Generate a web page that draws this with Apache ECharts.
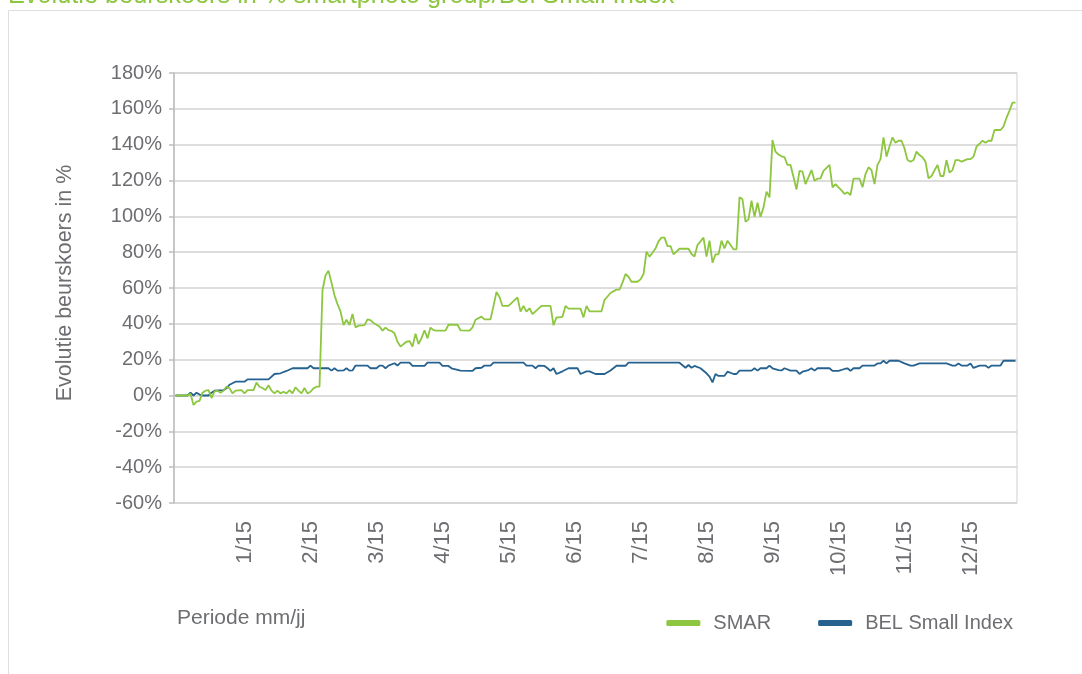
<!DOCTYPE html>
<html lang="nl">
<head>
<meta charset="utf-8" />
<title>Evolutie beurskoers</title>
<script src="https://cdn.jsdelivr.net/npm/echarts@6/dist/echarts.min.js"></script>
<style>
  html, body { margin: 0; padding: 0; background: #fff; }
  #box { width: 1082px; height: 674px; }
</style>
</head>
<body>
<div id="box"></div>
<script>
    var FONT = 'Liberation Sans';
    var GREY = '#6d6e71';

    // handelsdagen (index) en maandlabels
    var dayCount = 281;
    var tickDays = [23, 45, 67, 89, 111, 133, 155, 177, 199, 221, 243, 265];
    var tickLabels = ['1/15', '2/15', '3/15', '4/15', '5/15', '6/15', '7/15', '8/15', '9/15', '10/15', '11/15', '12/15'];

    // SMAR: dag-index en evolutie in %
    var smarDay = [0, 4, 5, 6, 7, 8, 9, 10, 11, 12, 13, 14, 15, 16, 17, 18, 19, 20, 22, 23, 24, 26, 27, 28, 29, 30,
        31, 32, 33, 34, 35, 36, 37, 38, 39, 40, 41, 42, 43, 44, 45, 46, 47, 48, 49, 50, 51, 52, 53, 54, 55, 56,
        57, 58, 59, 60, 61, 63, 64, 65, 66, 67, 68, 69, 70, 71, 72, 73, 74, 75, 76, 77, 78, 79, 80, 81, 82, 83,
        84, 85, 86, 87, 90, 91, 94, 95, 98, 99, 100, 102, 103, 105, 106, 107, 108, 109, 111, 114, 115, 116, 117,
        118, 119, 122, 125, 126, 127, 128, 129, 130, 131, 135, 136, 137, 138, 142, 143, 145, 147, 148, 149, 150,
        151, 152, 154, 155, 156, 157, 158, 159, 160, 161, 162, 163, 164, 165, 166, 168, 171, 172, 173, 174, 175,
        176, 177, 178, 179, 180, 181, 182, 183, 184, 185, 186, 187, 188, 189, 190, 191, 192, 193, 194, 195, 196,
        197, 198, 199, 200, 201, 202, 203, 204, 205, 206, 207, 208, 209, 210, 212, 213, 214, 215, 216, 217, 218,
        219, 220, 221, 222, 223, 224, 225, 226, 228, 229, 230, 231, 232, 233, 234, 235, 236, 237, 238, 239, 240,
        241, 242, 243, 244, 245, 246, 247, 248, 249, 250, 251, 252, 254, 255, 256, 257, 258, 259, 260, 261, 262,
        264, 265, 266, 267, 268, 269, 270, 271, 272, 273, 275, 276, 277, 278, 279, 280];
    var smarVal = [0, 0, 1, -5.3, -3.4, -3, 1.6, 2.7, 3, -1.4, 2.3, 2.7, 1.6, 2.7, 5, 4, 1.2, 2.7, 3, 1.2, 3, 3, 7.2, 4.9, 4.2, 3,
        5.7, 2.7, 1.2, 2.7, 1.2, 2.1, 1.2, 3, 1.2, 4.6, 2.7, 1.2, 4.2, 1.2, 2.1, 4, 4.9, 4.9, 58.9, 67, 69.7, 63, 56, 51, 47, 39.3,
        42.3, 39.3, 45.5, 38, 39, 39.3, 42.5, 42.1, 40.5, 39.5, 38.5, 36.2, 37.9, 36.5, 36, 34.7, 30, 27.3, 28.7, 30, 30.4, 27.3, 34.5, 28.7, 32, 36.4,
        31.9, 37.9, 36.5, 36.2, 36.2, 39.5, 39.5, 36.4, 36.2, 38, 42.3, 44, 42.5, 42.5, 50, 57.8, 55, 50, 50, 54.8, 46.8, 50, 46.8,
        48.7, 45.4, 50, 50, 39.2, 43.6, 43.6, 44, 50, 48.5, 48.5, 43.6, 50, 47, 47, 53.3, 57.2, 59.1, 59.1, 63, 67.8,
        66.3, 63.5, 63.5, 64.8, 67.8, 80.3, 77.5, 79.7, 82, 86, 88.1, 88.1, 83.4, 83.4, 78.8, 81.9, 81.9, 79, 77.5, 84, 86,
        88.1, 77.5, 86.4, 74.1, 78.8, 78.8, 86.4, 82.1, 86.4, 84, 81.6, 81.6, 110.6, 109.5, 97, 98.3, 108.7, 99.8, 107.6, 99.8, 105,
        113.8, 110.6, 142.6, 136.1, 134.5, 133.5, 133, 128.7, 128.7, 122, 115, 125.4, 124.9, 118, 125.8, 119.9, 121, 121.2, 125.4, 127, 128.7,
        116.2, 118, 116.2, 114.5, 112.5, 113.4, 111.9, 121, 121, 116.2, 123.6, 127.4, 125.8, 118, 128.7, 131.9, 144.1, 133.3, 139, 144.1, 141.1,
        142.2, 142.2, 137.9, 131.4, 130.5, 131.4, 136.1, 134.2, 133, 130.5, 121.2, 122.5, 128.7, 122.5, 122.5, 131.4, 124.4, 125.8, 131.4, 131.4, 130.5,
        131.9, 131.9, 133.3, 138.9, 140.5, 142.2, 141.1, 142.2, 142.2, 148.2, 148.2, 150.1, 155, 159, 163.5, 163.5];

    // BEL Small Index: dag-index en evolutie in %
    var belDay = [0, 4, 5, 6, 7, 8, 9, 11, 12, 13, 16, 17, 18, 20, 23, 24, 31, 33, 35, 37, 39, 44, 45, 46, 51, 52, 53, 54,
        56, 57, 58, 59, 60, 64, 65, 67, 68, 69, 70, 71, 73, 74, 75, 78, 79, 83, 84, 88, 89, 91, 92, 95, 99, 100, 102,
        103, 105, 106, 116, 117, 119, 120, 121, 123, 124, 125, 126, 127, 129, 131, 134, 135, 137, 138, 140, 143, 145,
        147, 150, 151, 168, 170, 171, 172, 173, 175, 177, 178, 179, 180, 181, 183, 184, 186, 187, 188, 192, 193, 194,
        195, 197, 198, 199, 201, 202, 203, 205, 207, 208, 209, 211, 212, 213, 214, 218, 219, 221, 223, 224, 225, 226,
        228, 229, 233, 234, 235, 236, 237, 238, 241, 243, 245, 246, 248, 257, 259, 260, 261, 262, 264, 265, 266, 268,
        270, 271, 272, 275, 276, 280];
    var belVal = [0, 0, 1.6, 0, 1.6, 0.5, 0, 0, 1.6, 2.7, 3, 4, 6, 7.7, 7.7, 9, 9, 12, 12.4, 13.7, 15.2, 15.2, 16.7, 15.2, 15.2, 13.9, 15.2, 13.9,
        14, 15.2, 13.9, 14, 16.7, 16.7, 15.2, 15.2, 16.7, 16.7, 15.2, 16.7, 18, 16.7, 18.3, 18.3, 16.5, 16.5, 18.3, 18.3, 16.5, 16.5, 15.2, 13.9, 13.7, 15.2, 15.5,
        16.7, 16.7, 18.3, 18.3, 16.7, 16.7, 15.2, 16.7, 16.5, 15.2, 13.7, 15.2, 12, 13.5, 15.2, 15.2, 12, 13.5, 13.5, 12, 12, 14,
        16.6, 16.6, 18.3, 18.3, 15.5, 17, 15.5, 16.5, 15.2, 12.4, 10.5, 7.3, 12, 10.9, 11, 13.3, 12, 12, 13.9, 13.9, 15.2, 13.9,
        15.2, 15.2, 16.7, 15.2, 14.2, 14, 15.2, 13.9, 13.9, 12, 13.3, 14.2, 15.2, 13.9, 15.2, 15.2, 13.7, 13.7, 14.8, 15.2, 13.7, 15.2,
        15.2, 16.7, 16.7, 17.9, 17.9, 19.4, 17.9, 19.4, 19.4, 17.9, 16.7, 16.7, 17.9, 17.9, 16.7, 16.7, 17.9, 16.7, 16.7, 17.9, 15.4, 16.7,
        16.7, 15.4, 16.7, 16.7, 19.4, 19.4];

    var days = [];
    for (var i = 0; i < dayCount; i++) days.push(String(i));

    function pairs(d, v) {
        var out = [];
        for (var k = 0; k < d.length; k++) out.push([d[k], v[k]]);
        return out;
    }

    var myChart = echarts.init(document.getElementById('box'), null, { renderer: 'canvas' });
    var option = {
        animation: false,
        backgroundColor: '#fff',
        textStyle: { fontFamily: FONT },
        graphic: [
            {   // kader
                type: 'rect', z: -10, silent: true,
                shape: { x: 8.5, y: 10.5, width: 1200, height: 800 },
                style: { fill: 'none', stroke: '#dedede', lineWidth: 1 }
            },
            {   // titel (bovenaan afgesneden)
                type: 'text', left: 8, top: -16,
                style: { text: 'Evolutie beurskoers in % smartphoto group/Bel Small Index',
                    font: '25.3px ' + FONT, fill: '#8dc63f' }
            },
            {
                type: 'text', left: 177, top: 608,
                style: { text: 'Periode mm/jj', font: '21px ' + FONT, fill: GREY }
            }
        ],
        legend: {
            right: 64,
            top: 608,
            itemWidth: 34,
            itemHeight: 6,
            itemGap: 47,
            icon: 'roundRect',
            textStyle: { fontSize: 20, color: GREY, fontFamily: FONT, padding: [0, 0, 0, 8] },
            data: ['SMAR', 'BEL Small Index']
        },
        grid: {
            left: 174, right: 65, top: 73, bottom: 171,
            show: true, borderColor: '#cfcfcf', borderWidth: 1
        },
        xAxis: {
            type: 'category',
            data: days,
            boundaryGap: true,
            axisLine: { show: false },
            axisTick: { show: false },
            axisLabel: {
                rotate: 90,
                margin: 18,
                fontSize: 22,
                color: GREY,
                interval: function (idx) { return tickDays.indexOf(idx) >= 0; },
                formatter: function (v, idx) { return tickLabels[tickDays.indexOf(idx)]; }
            },
            splitLine: { show: false }
        },
        yAxis: {
            type: 'value',
            min: -60, max: 180, interval: 20,
            name: 'Evolutie beurskoers in %',
            nameLocation: 'middle',
            nameGap: 98,
            nameTextStyle: { fontSize: 21.5, color: GREY, fontFamily: FONT, padding: [0, 0, 0, 10] },
            axisLine: { show: true, lineStyle: { color: '#bdbdbd', width: 1.5 } },
            axisTick: { show: true, length: 5, lineStyle: { color: '#bdbdbd', width: 1.5 } },
            axisLabel: { formatter: '{value}%', fontSize: 20, color: GREY, margin: 12 },
            splitLine: { lineStyle: { color: '#d2d2d2', width: 1.5 } }
        },
        series: [
            {
                name: 'SMAR',
                type: 'line',
                showSymbol: false,
                color: '#8dc63f',
                lineStyle: { width: 1.8, color: '#8dc63f' },
                data: pairs(smarDay, smarVal),
                z: 3
            },
            {
                name: 'BEL Small Index',
                type: 'line',
                showSymbol: false,
                color: '#25628f',
                lineStyle: { width: 1.8, color: '#25628f' },
                data: pairs(belDay, belVal),
                z: 2
            }
        ]
    };
    myChart.setOption(option);
</script>
</body>
</html>
